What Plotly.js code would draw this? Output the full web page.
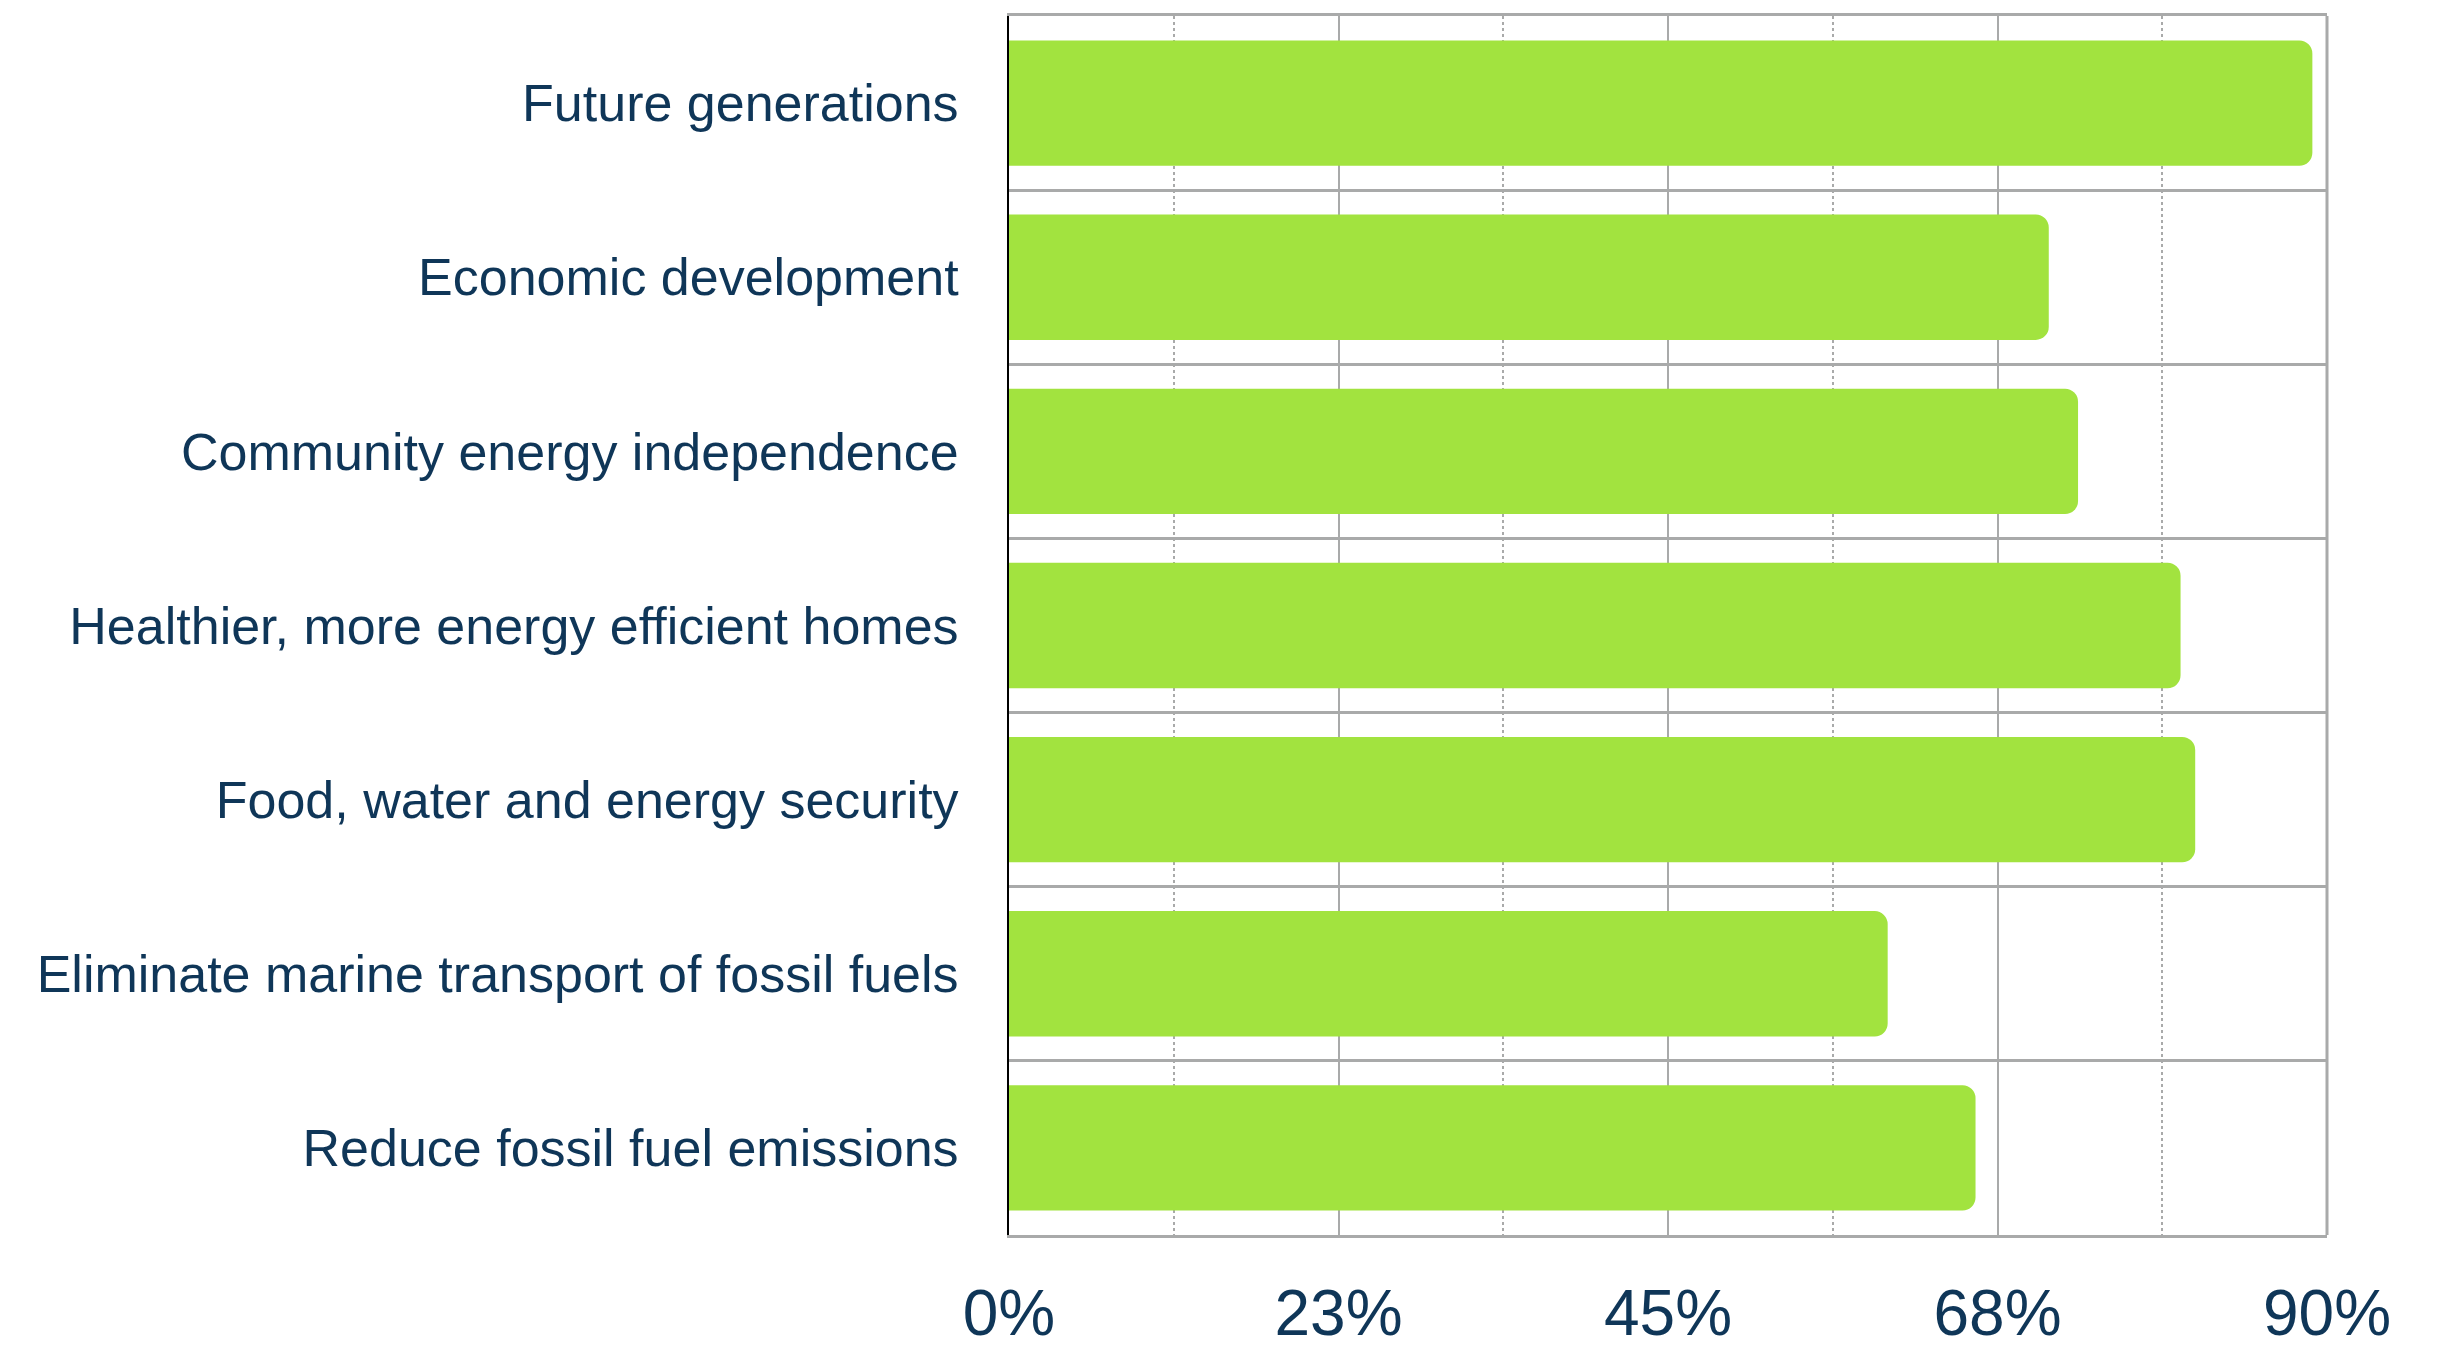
<!DOCTYPE html>
<html>
<head>
<meta charset="utf-8">
<script src="https://cdn.plot.ly/plotly-3.0.1.min.js"></script>
<style>html,body{margin:0;padding:0;background:#fff;}#chart{width:2458px;height:1352px;}</style>
</head>
<body>
<div id="chart"></div>
<script>
const categories = [
  "Future generations",
  "Economic development",
  "Community energy independence",
  "Healthier, more energy efficient homes",
  "Food, water and energy security",
  "Eliminate marine transport of fossil fuels",
  "Reduce fossil fuel emissions"
];
const values = [89, 71, 73, 80, 81, 60, 66];
const tickVals = [0, 22.5, 45, 67.5, 90];
const tickText = ["0%", "23%", "45%", "68%", "90%"];
const minorTickVals = [11.25, 33.75, 56.25, 78.75];

const textColor = "#0f3658";
const gridColor = "#a9aaaa";

const trace = {
  type: "bar",
  orientation: "h",
  y: categories,
  x: values,
  marker: { color: "#a2e33f", line: { width: 0 } },
  hoverinfo: "x+y"
};

const layout = {
  width: 2458,
  height: 1352,
  margin: { l: 1009, r: 131, t: 16, b: 117, pad: 0 },
  paper_bgcolor: "#ffffff",
  plot_bgcolor: "#ffffff",
  bargap: 0.28,
  barcornerradius: 13,
  showlegend: false,
  font: { family: "Liberation Sans, Arial, sans-serif", color: textColor },
  xaxis: {
    range: [0, 90],
    tickmode: "array",
    tickvals: tickVals,
    ticktext: tickText,
    tickfont: { size: 64, color: textColor, family: "Liberation Sans, Arial, sans-serif" },
    ticks: "",
    ticklabelstandoff: 20,
    showgrid: true,
    gridcolor: gridColor,
    gridwidth: 2,
    zeroline: false,
    showline: true,
    linecolor: gridColor,
    linewidth: 3,
    mirror: true,
    minor: {
      tickmode: "array",
      tickvals: minorTickVals,
      showgrid: true,
      gridcolor: gridColor,
      gridwidth: 2,
      griddash: "dot",
      ticks: ""
    },
    fixedrange: true
  },
  yaxis: {
    type: "category",
    autorange: "reversed",
    tickson: "boundaries",
    ticks: "",
    showgrid: true,
    gridcolor: gridColor,
    gridwidth: 3,
    tickfont: { size: 52, color: textColor, family: "Liberation Sans, Arial, sans-serif" },
    ticklabelstandoff: 38,
    showline: true,
    linecolor: "#000000",
    linewidth: 2,
    mirror: false,
    zeroline: false,
    fixedrange: true
  },
  shapes: [
    { type: "line", xref: "paper", yref: "paper", x0: 1, x1: 1, y0: 0, y1: 1,
      line: { color: gridColor, width: 3 }, layer: "above" }
  ]
};

Plotly.newPlot("chart", [trace], layout, { displayModeBar: false, staticPlot: true });
</script>
</body>
</html>
